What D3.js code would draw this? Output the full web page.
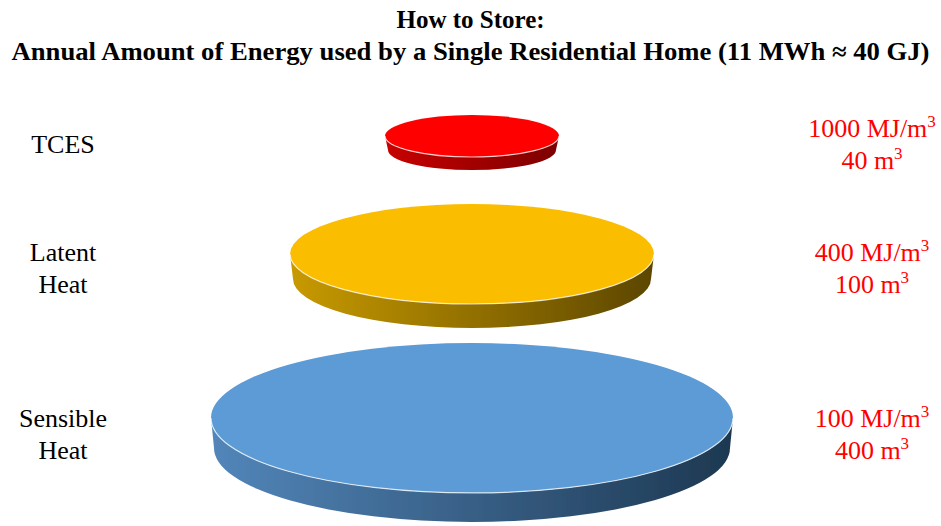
<!DOCTYPE html>
<html>
<head>
<meta charset="utf-8">
<script src="https://cdn.jsdelivr.net/npm/d3@7"></script>
<style>
  html, body { margin: 0; padding: 0; background: #fff; }
  svg { display: block; }
  text { font-family: "Liberation Serif", "Times New Roman", serif; }
</style>
</head>
<body>
<svg id="chart" width="941" height="526"></svg>
<script>
// Storage technologies, top to bottom
const categories = ["TCES", "Latent Heat", "Sensible Heat"];
const labelLines = [["TCES"], ["Latent", "Heat"], ["Sensible", "Heat"]];
// Energy density of each storage type (MJ/m³)
const energyDensity = [1000, 400, 100];
// Volume needed to hold 40 GJ (m³)
const volume = [40, 100, 400];
// Disc colours: top face, lit side, shaded side
const topColors = ["#ff0000", "#fbbd00", "#5b9bd5"];
const sideLight = ["#c80000", "#c89a00", "#5286ba"];
const sideDark = ["#7c0000", "#5c4600", "#1d3851"];

const titleLines = [
  "How to Store:",
  "Annual Amount of Energy used by a Single Residential Home (11 MWh \u2248 40 GJ)"
];

const svg = d3.select("#chart");
const W = 941;

// Scales: vertical row position, and disc footprint from volume
const rowY = d3.scaleOrdinal().domain(categories).range([136, 254, 418]);
const rx = d3.scaleLinear().domain(volume).range([87, 182, 261]);
const ry = d3.scaleLinear().domain(volume).range([21, 50, 75]);
const depth = d3.scaleLinear().domain(volume).range([14, 25, 30]);
const cx = 472;

// Title
svg.append("g").selectAll("text").data(titleLines).join("text")
  .attr("x", W / 2)
  .attr("y", (d, i) => 28 + i * 32)
  .attr("text-anchor", "middle")
  .attr("font-weight", "bold")
  .attr("font-size", 25)
  .attr("fill", "#000")
  .each(function (d, i) {
    if (i === 1) d3.select(this).attr("textLength", 918).attr("lengthAdjust", "spacingAndGlyphs");
  })
  .text(d => d);

const defs = svg.append("defs");
categories.forEach((c, i) => {
  const g = defs.append("linearGradient").attr("id", "side" + i)
    .attr("x1", "0%").attr("x2", "100%").attr("y1", "0%").attr("y2", "0%");
  g.append("stop").attr("offset", "0%").attr("stop-color", sideLight[i]);
  g.append("stop").attr("offset", "100%").attr("stop-color", sideDark[i]);
});
defs.append("filter").attr("id", "soft")
  .append("feGaussianBlur").attr("stdDeviation", 0.6);

const rows = categories.map((c, i) => ({
  cat: c, lines: labelLines[i], dens: energyDensity[i], vol: volume[i], i
}));

const disc = svg.append("g").selectAll("g").data(rows).join("g")
  .attr("filter", "url(#soft)");

// Side wall of each disc
disc.append("path")
  .attr("fill", d => `url(#side${d.i})`)
  .attr("d", d => {
    const y = rowY(d.cat), a = rx(d.vol), b = ry(d.vol), t = depth(d.vol);
    const a2 = a - 3, b2 = b - 1;
    return `M${cx - a},${y} L${cx - a2},${y + t} A${a2},${b2} 0 0 0 ${cx + a2},${y + t}` +
      ` L${cx + a},${y} A${a},${b} 0 0 1 ${cx - a},${y} Z`;
  });

// Top face
disc.append("ellipse")
  .attr("cx", cx)
  .attr("cy", d => rowY(d.cat))
  .attr("rx", d => rx(d.vol))
  .attr("ry", d => ry(d.vol))
  .attr("fill", d => topColors[d.i]);

// Light rim along the front edge of the top face
disc.append("path")
  .attr("fill", "none")
  .attr("stroke", "#ffffff")
  .attr("stroke-opacity", 0.75)
  .attr("stroke-width", 1.2)
  .attr("d", d => {
    const y = rowY(d.cat), a = rx(d.vol), b = ry(d.vol);
    return `M${cx - a},${y} A${a},${b} 0 0 0 ${cx + a},${y}`;
  });

// Category labels on the left
const lineH = 32;
svg.append("g").selectAll("text").data(rows).join("text")
  .attr("text-anchor", "middle")
  .attr("font-size", 26)
  .attr("fill", "#000")
  .each(function (d) {
    const mid = rowY(d.cat) + depth(d.vol) / 2;
    const n = d.lines.length;
    d3.select(this).selectAll("tspan").data(d.lines).join("tspan")
      .attr("x", 63)
      .attr("y", (l, k) => mid + 10 + (k - (n - 1) / 2) * lineH)
      .text(l => l);
  });

// Density and volume labels on the right
const right = svg.append("g").selectAll("text").data(rows.flatMap(d => [
  { d, k: 0, main: `${d.dens} MJ/m` },
  { d, k: 1, main: `${d.vol} m` }
])).join("text")
  .attr("x", 872)
  .attr("y", e => rowY(e.d.cat) + depth(e.d.vol) / 2 + 10 + (e.k - 0.5) * lineH)
  .attr("text-anchor", "middle")
  .attr("font-size", 26)
  .attr("fill", "#ff0000");
right.append("tspan").text(e => e.main);
right.append("tspan").attr("font-size", 17).attr("dy", -10).text("3");
</script>
</body>
</html>
